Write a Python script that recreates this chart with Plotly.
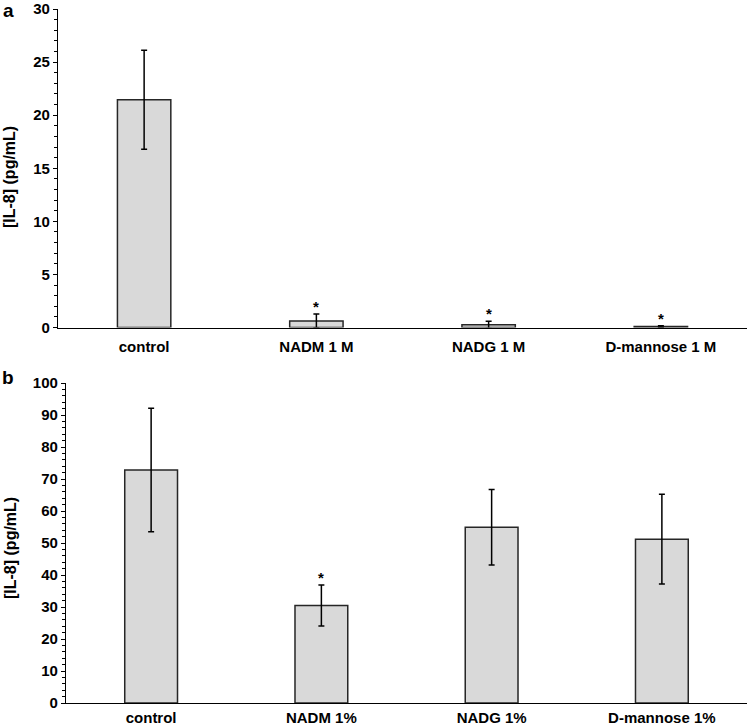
import plotly.graph_objects as go
from plotly.subplots import make_subplots

# Panel a
cats_a = ["control", "NADM 1 M", "NADG 1 M", "D-mannose 1 M"]
vals_a = [21.45, 0.62, 0.25, 0.09]
errs_a = [4.67, 0.66, 0.35, 0.08]
sig_a = [False, True, True, True]

# Panel b
cats_b = ["control", "NADM 1%", "NADG 1%", "D-mannose 1%"]
vals_b = [72.8, 30.5, 54.9, 51.2]
errs_b = [19.3, 6.4, 11.8, 14.0]
sig_b = [False, True, False, False]

FONT = "Liberation Sans, Arial, sans-serif"
W, H = 749, 727

fig = make_subplots(rows=2, cols=1)

bar_style = dict(
    marker=dict(color="#d9d9d9", line=dict(color="#262626", width=1.5)),
    width=0.31,
    showlegend=False,
    hoverinfo="skip",
)
err_style = dict(type="data", thickness=1.5, width=3, color="#000000")

fig.add_trace(go.Bar(x=cats_a, y=vals_a, error_y=dict(array=errs_a, **err_style), **bar_style), row=1, col=1)
fig.add_trace(go.Bar(x=cats_b, y=vals_b, error_y=dict(array=errs_b, **err_style), **bar_style), row=2, col=1)

tickfont = dict(family=FONT, size=15, color="#000000", weight="bold")
common_x = dict(
    type="category", range=[-0.5, 3.5], showline=True, linecolor="#000000", linewidth=1.3,
    ticks="", showgrid=False, zeroline=False, tickfont=tickfont, ticklabeloverflow="allow",
)
fig.update_xaxes(domain=[58 / W, 747 / W], ticklabelstandoff=5, row=1, col=1, **common_x)
fig.update_xaxes(domain=[66 / W, 747 / W], ticklabelstandoff=1, row=2, col=1, **common_x)

common_y = dict(
    showline=True, linecolor="#000000", linewidth=1.3, ticks="outside", ticklen=4,
    tickcolor="#000000", tickwidth=1.2, showgrid=False, zeroline=False, tickfont=tickfont,
    ticklabeloverflow="allow",
)
fig.update_yaxes(range=[0, 30], dtick=5, tick0=0,
                 minor=dict(dtick=1, ticks="outside", ticklen=3, tickcolor="#000000", tickwidth=1, showgrid=False),
                 domain=[(H - 327.5) / H, (H - 9) / H], row=1, col=1, **common_y)
fig.update_yaxes(range=[0, 100], dtick=10, tick0=0,
                 minor=dict(dtick=2, ticks="outside", ticklen=3, tickcolor="#000000", tickwidth=1, showgrid=False),
                 domain=[(H - 703) / H, (H - 383) / H], row=2, col=1, **common_y)

annotations = []
for c, v, e, s in zip(cats_a, vals_a, errs_a, sig_a):
    if s:
        annotations.append(dict(x=c, y=v + e, xref="x", yref="y", text="*", showarrow=False,
                                yanchor="bottom", yshift=-3, font=dict(family=FONT, size=15, color="#000000")))
for c, v, e, s in zip(cats_b, vals_b, errs_b, sig_b):
    if s:
        annotations.append(dict(x=c, y=v + e, xref="x2", yref="y2", text="*", showarrow=False,
                                yanchor="bottom", yshift=-3, font=dict(family=FONT, size=15, color="#000000")))

title_font = dict(family=FONT, size=16, color="#000000")
annotations += [
    dict(x=10 / W, y=(H - 177) / H, xref="paper", yref="paper", text="<b>[IL-8] (pg/mL)</b>",
         textangle=-90, showarrow=False, xanchor="center", yanchor="middle", font=title_font),
    dict(x=10 / W, y=(H - 548) / H, xref="paper", yref="paper", text="<b>[IL-8] (pg/mL)</b>",
         textangle=-90, showarrow=False, xanchor="center", yanchor="middle", font=title_font),
    dict(x=8 / W, y=(H - 10) / H, xref="paper", yref="paper", text="<b>a</b>", showarrow=False,
         xanchor="center", yanchor="middle", font=dict(family=FONT, size=19, color="#000000")),
    dict(x=8 / W, y=(H - 377) / H, xref="paper", yref="paper", text="<b>b</b>", showarrow=False,
         xanchor="center", yanchor="middle", font=dict(family=FONT, size=19, color="#000000")),
]

fig.update_layout(
    width=W, height=H,
    margin=dict(l=0, r=0, t=0, b=0, autoexpand=False),
    paper_bgcolor="#ffffff", plot_bgcolor="#ffffff",
    font=dict(family=FONT, size=15, color="#000000", weight="bold"),
    annotations=annotations,
    bargap=0.69,
)

fig.write_html(
    "out.html",
    config={"displayModeBar": False},
    post_script="document.body.style.margin='0';document.body.style.overflow='hidden';",
)
